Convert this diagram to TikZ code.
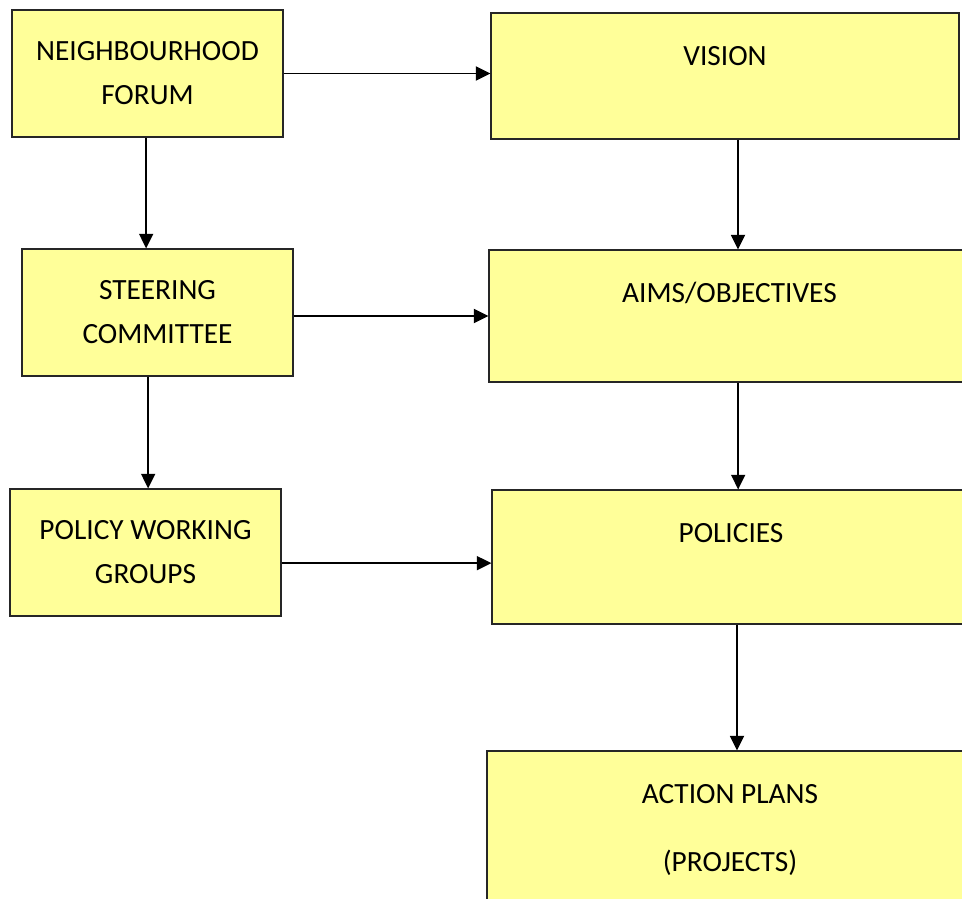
\documentclass[tikz,border=0pt]{standalone}
\usepackage{fontspec}
\setmainfont{Carlito}
\usetikzlibrary{arrows.meta,positioning}

\begin{document}
\begin{tikzpicture}[x=0.75pt,y=-0.75pt,
    box/.style={draw=black!85, line width=0.8pt, fill=planyellow, rectangle,
        font=\fontsize{22}{33}\selectfont, align=center, inner sep=0pt},
    lbl/.style={font=\fontsize{22}{33}\selectfont, align=center, inner sep=0pt,
        text height=0.64em, text depth=0pt},
    flow/.style={line width=1.4pt, -{Triangle[length=11pt,width=10.5pt]}}]
\definecolor{planyellow}{RGB}{255,255,153}
\useasboundingbox (0,0) rectangle (962,898);
\clip (0,0) rectangle (962,898);
% left column
\node[box, minimum width=203.25pt, minimum height=95.25pt] (forum) at (147.5,73.5) {NEIGHBOURHOOD\\FORUM};
\node[box, minimum width=203.25pt, minimum height=95.25pt] (steering) at (157.5,312.5) {STEERING\\COMMITTEE};
\node[box, minimum width=203.25pt, minimum height=95.25pt] (groups) at (145.5,552.5) {POLICY WORKING\\GROUPS};
% right column
\node[box, minimum width=351pt, minimum height=94.5pt] (vision) at (725,76) {};
\node[box, minimum width=360.75pt, minimum height=99pt] (aims) at (729.5,316) {};
\node[box, minimum width=358.5pt, minimum height=100.5pt] (policies) at (731,557) {};
\node[box, minimum width=364.5pt, minimum height=119.25pt] (plans) at (730,830.5) {};
\node[lbl] (visiontxt) at ([yshift=-36.75pt]vision.north) {VISION};
\node[lbl] (aimstxt) at ([yshift=-36.75pt]aims.north) {AIMS/OBJECTIVES};
\node[lbl] (policiestxt) at ([yshift=-36.75pt]policies.north) {POLICIES};
\node[lbl] (planstxt) at ([yshift=-36.75pt]plans.north) {ACTION PLANS};
\node[lbl] (projectstxt) at ([yshift=-51pt]planstxt.center) {(PROJECTS)};
% connectors
\draw[flow] (forum.east) -- (forum.east -| vision.west);
\draw[flow] ([xshift=-1pt]forum.south) -- ([xshift=-1pt]forum.south |- steering.north);
\draw[flow] (steering.east |- aims.west) -- (aims.west);
\draw[flow] ([xshift=2pt]steering.south -| groups.north) -- ([xshift=2pt]groups.north);
\draw[flow] ([yshift=-8pt]groups.east) -- ([yshift=-8pt]groups.east -| policies.west);
\draw[flow] ([xshift=9.75pt]vision.south) -- ([xshift=9.75pt]vision.south |- aims.north);
\draw[flow] ([xshift=6.5pt]aims.south) -- ([xshift=6.5pt]aims.south |- policies.north);
\draw[flow] ([xshift=4.5pt]policies.south) -- ([xshift=4.5pt]policies.south |- plans.north);
\end{tikzpicture}
\end{document}
